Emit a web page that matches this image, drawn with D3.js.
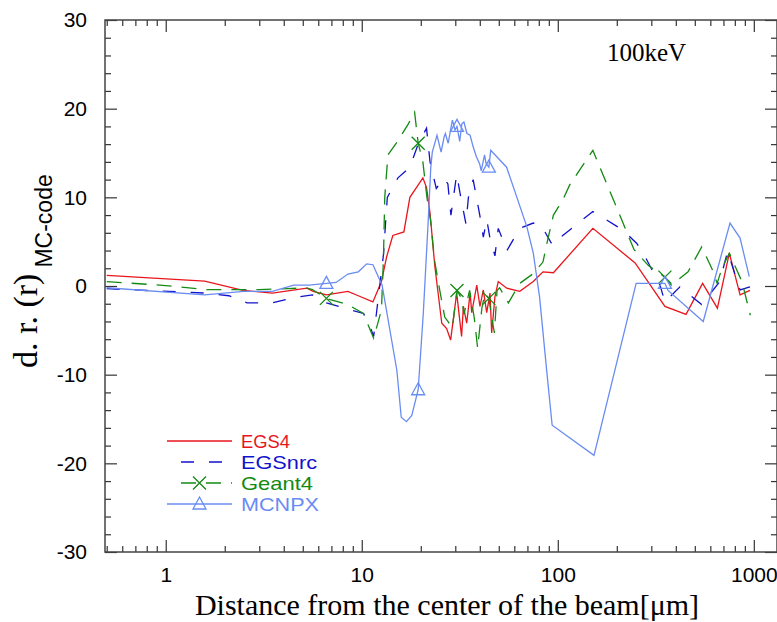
<!DOCTYPE html>
<html lang="en">
<head>
<meta charset="UTF-8">
<script src="https://cdnjs.cloudflare.com/ajax/libs/d3/7.8.5/d3.min.js"></script>
<title>d.r. 100keV</title>
<style>
  body { margin: 0; background: #fff; }
  .tick line { stroke: #333; stroke-width: 1.2; }
  .tick text { font-family: "Liberation Sans", Arial, sans-serif; font-size: 21px; fill: #000; }
</style>
</head>
<body>
<script>

// data: [distance in um, d.r.]
let egs4 = [[0.5,1.2],[1.58,0.55],[2.48,-0.5],[3.5,-0.8],[5.25,-0.25],[5.65,-0.6],[6.6,-1.0],[7.1,-0.9],
  [8.5,-0.6],[9.6,-1.1],[11.4,-1.8],[12.6,0.5],[13.4,3.3],[14.4,5.7],[16.4,6.1],[17.6,10.0],[19.0,11.1],
  [20.5,12.2],[21.4,11.1],[22.3,8.2],[23.6,2.2],[25.6,-4.2],[27.1,-4.8],[28.4,-6.1],[30.5,-0.8],[32.3,-5.7],
  [33.0,-2.3],[34.3,-4.2],[35.7,-0.8],[36.4,-3.0],[38.6,0.1],[40.1,-2.3],[41.7,-0.45],[43.4,-3.0],[45.1,-0.8],
  [46.0,-5.3],[47.8,-1.2],[49.7,0.5],[54.9,-0.25],[64,-0.6],[75,0.5],[84,1.6],[95,1.5],[151,6.5],[248,2.6],
  [352,-2.3],[451,-3.2],[548,0.3],[652,-2.5],[750,3.7],[851,-1.0],[956,-0.5]];

let egsnrc = [[0.5,-0.3],[1.6,-0.8],[2.1,-1.1],[2.6,-1.9],[3.5,-1.9],[4.5,-1.3],[5.6,-1.0],[6.6,-1.9],
  [8.5,-2.6],[10.2,-3.1],[10.8,-4.0],[11.5,-5.7],[12.9,3.5],[13.5,10.0],[15.3,12.2],[17.6,13.4],[19.4,16.0],
  [21.4,17.8],[22.3,14.0],[24.0,11.0],[26.3,12.2],[27.5,11.5],[28.5,8.0],[30.5,12.6],[32.0,10.0],[34.0,7.0],
  [35.0,10.0],[37.0,12.0],[40.0,8.0],[41.7,5.5],[43.4,7.5],[45.0,5.5],[47.8,3.4],[49.7,6.5],[55,4.0],[64,6.5],
  [75,7.1],[82,6.9],[94,4.6],[106,5.7],[151,8.4],[215,6.3],[253,4.8],[279,3.3],[332,0.1],[352,-1.8],[420,-0.1],
  [542,-2.1],[670,0.5],[735,3.9],[851,-0.45],[956,-0.1]];

let geant4 = [[0.5,0.5],[1.0,0.05],[1.6,-0.4],[2.2,-0.4],[3.0,-0.4],[4.2,-0.3],[5.2,-0.2],[5.6,-0.4],
  [6.6,-1.4],[8.5,-2.1],[10.2,-3.1],[11.5,-5.9],[12.6,-2.7],[12.9,3.0],[13.1,10.0],[13.6,14.8],[15.1,16.2],
  [17.2,18.2],[18.6,19.6],[19.4,16.1],[20.5,14.0],[21.5,10.0],[22.5,7.2],[23.5,2.9],[25.0,-0.5],[26.5,-3.5],
  [27.5,-4.0],[29.0,-4.7],[30.6,-0.5],[32.5,-1.5],[33.2,-3.2],[35.5,-0.5],[37.5,-3.6],[39.0,-7.0],[41.0,-2.5],
  [42.5,-0.8],[44.5,-1.4],[46.0,-3.5],[47.5,-5.3],[49.0,-0.5],[50.5,-0.2],[56,-1.9],[64,0.3],[75,1.4],[84,2.7],
  [88,4.8],[95,8.0],[106,9.7],[115,11.4],[151,15.3],[245,4.1],[290,2.3],[352,1.0],[380,0.1],[411,0.7],[462,1.6],
  [542,4.4],[610,2.0],[650,0.3],[690,2.1],[750,3.7],[870,0.5],[960,-3.3]];

let mcnpx = [[0.5,-0.2],[1.58,-1.0],[2.5,-0.6],[3.5,-0.6],[4.5,0.1],[5.4,0.1],[6.6,0.3],[7.4,0.4],[8.5,1.35],
  [9.6,1.6],[10.6,2.5],[11.4,2.4],[12.7,0.1],[15.1,-9.5],[15.9,-14.8],[16.9,-15.3],[18.0,-14.6],[19.4,-11.7],
  [20.6,-3.1],[21.8,7.1],[22.5,13.4],[22.9,15.1],[24.2,17.0],[25.4,15.1],[26.3,16.8],[26.7,17.2],[27.6,16.1],
  [28.6,18.0],[29.0,18.7],[29.9,17.6],[30.6,18.0],[31.6,16.3],[32.4,18.3],[33.2,18.5],[34.4,17.2],[35.7,17.0],
  [37.0,15.7],[38.4,14.6],[39.9,13.8],[40.7,13.0],[42.3,14.8],[43.1,13.8],[44.5,13.4],[45.5,15.3],[54.8,13.4],
  [69.5,6.7],[75,3.7],[80.7,-1.2],[88,-9.8],[93.6,-15.7],[153,-19.1],[251,0.3],[352,0.3],[365,-0.5],[552,-4.0],
  [756,7.1],[851,5.4],[948,1.05]];

// where the symbols sit on Geant4 / MCNPX
let markerX = [6.6, 19.4, 30.6, 44.5, 352];

let xMajor = [1, 10, 100, 1000];
let xMinor = [0.5,0.6,0.7,0.8,0.9, 2,3,4,5,6,7,8,9, 20,30,40,50,60,70,80,90, 200,300,400,500,600,700,800,900];
let yMajor = [-30, -20, -10, 0, 10, 20, 30];
let yMinor = d3.range(-28, 30, 2).filter(function(v) { return v % 10 !== 0; });

let series = [
  {name: "EGS4",   data: egs4,   color: "#e8161c", dash: null,    marker: null,  w: 49},
  {name: "EGSnrc", data: egsnrc, color: "#1212cc", dash: "13,15", marker: null,  w: 76},
  {name: "Geant4", data: geant4, color: "#138a13", dash: "15,10", marker: "x",   w: 72},
  {name: "MCNPX",  data: mcnpx,  color: "#6a8cf2", dash: null,    marker: "tri", w: 78}
];

// plot box in page pixels
let pL = 105, pT = 20, pR = 777, pB = 552;

let x = d3.scaleLog().domain([0.49, 1313]).range([pL, pR]);
let y = d3.scaleLinear().domain([-30, 30]).range([pB, pT]);

// plain hyphen for negatives, like the original
let plain = function(d) { return String(d); };

let svg = d3.select("body").append("svg")
    .attr("width", 777)
    .attr("height", 622);

svg.append("clipPath").attr("id", "plot")
  .append("rect")
    .attr("x", pL).attr("y", pT)
    .attr("width", pR - pL).attr("height", pB - pT);

// axes, ticks pointing inward on all four sides
function addAxis(axis, transform, labels) {
  let g = svg.append("g").attr("transform", transform).call(axis);
  g.select(".domain").remove();
  if (!labels) g.selectAll("text").remove();
  return g;
}

addAxis(d3.axisBottom(x).tickValues(xMajor).tickFormat(plain).tickSizeInner(-12).tickSizeOuter(0).tickPadding(15),
  "translate(0," + pB + ")", true);
addAxis(d3.axisBottom(x).tickValues(xMinor).tickSizeInner(-6).tickSizeOuter(0), "translate(0," + pB + ")", false);
addAxis(d3.axisTop(x).tickValues(xMajor).tickSizeInner(-12).tickSizeOuter(0), "translate(0," + pT + ")", false);
addAxis(d3.axisTop(x).tickValues(xMinor).tickSizeInner(-6).tickSizeOuter(0), "translate(0," + pT + ")", false);

addAxis(d3.axisLeft(y).tickValues(yMajor).tickFormat(plain).tickSizeInner(-12).tickSizeOuter(0).tickPadding(18),
  "translate(" + pL + ",0)", true);
addAxis(d3.axisLeft(y).tickValues(yMinor).tickSizeInner(-6).tickSizeOuter(0), "translate(" + pL + ",0)", false);
addAxis(d3.axisRight(y).tickValues(yMajor).tickSizeInner(-12).tickSizeOuter(0), "translate(" + pR + ",0)", false);
addAxis(d3.axisRight(y).tickValues(yMinor).tickSizeInner(-6).tickSizeOuter(0), "translate(" + pR + ",0)", false);

svg.append("rect")
    .attr("x", pL).attr("y", pT)
    .attr("width", pR - pL).attr("height", pB - pT)
    .attr("fill", "none")
    .attr("stroke", "#444")
    .attr("stroke-width", 1.5);

let line = d3.line()
    .x(function(d) { return x(d[0]); })
    .y(function(d) { return y(d[1]); });

let plot = svg.append("g").attr("clip-path", "url(#plot)");

function drawMarker(g, kind, px, py, color) {
  if (kind === "x") {
    g.append("path")
      .attr("d", "M" + (px-6.5) + "," + (py-6.5) + "L" + (px+6.5) + "," + (py+6.5) +
                 "M" + (px-6.5) + "," + (py+6.5) + "L" + (px+6.5) + "," + (py-6.5))
      .attr("stroke", color).attr("stroke-width", 1.3).attr("fill", "none");
  } else if (kind === "tri") {
    g.append("path")
      .attr("d", "M" + px + "," + (py-7) + "L" + (px+6.5) + "," + (py+5) + "L" + (px-6.5) + "," + (py+5) + "Z")
      .attr("stroke", color).attr("stroke-width", 1.3).attr("fill", "none");
  }
}

series.forEach(function(s) {
  plot.append("path")
      .datum(s.data)
      .attr("d", line)
      .attr("fill", "none")
      .attr("stroke", s.color)
      .attr("stroke-width", 1.3)
      .attr("stroke-dasharray", s.dash);
  if (s.marker) {
    s.data.filter(function(d) { return markerX.indexOf(d[0]) >= 0; })
      .forEach(function(d) { drawMarker(plot, s.marker, x(d[0]), y(d[1]), s.color); });
  }
});

// legend
let legendY = [441, 462, 483, 504];
series.forEach(function(s, i) {
  let ly = legendY[i];
  let x0 = s.dash ? 181 : 167;
  svg.append("line")
      .attr("x1", x0).attr("x2", 232)
      .attr("y1", ly).attr("y2", ly)
      .attr("stroke", s.color)
      .attr("stroke-width", 1.3)
      .attr("stroke-dasharray", s.dash);
  if (s.marker) drawMarker(svg, s.marker, 199.5, ly, s.color);
  svg.append("text")
      .attr("x", 241).attr("y", ly + 7)
      .attr("textLength", s.w)
      .attr("lengthAdjust", "spacingAndGlyphs")
      .style("font-family", "Liberation Sans, Arial, sans-serif")
      .style("font-size", "18.5px")
      .attr("fill", s.color)
      .text(s.name);
});

// titles
svg.append("text")
    .attr("x", 447).attr("y", 615)
    .style("text-anchor", "middle")
    .style("font-family", "Liberation Serif, Times New Roman, serif")
    .style("font-size", "30px")
    .text("Distance from the center of the beam[\u03bcm]");

let yTitle = svg.append("text")
    .attr("transform", "translate(37,368) rotate(-90)")
    .style("font-family", "Liberation Serif, Times New Roman, serif")
    .style("font-size", "34px");
yTitle.append("tspan").text("d. r. (r)");
yTitle.append("tspan")
    .attr("dx", 6).attr("dy", 15)
    .style("font-family", "Liberation Sans, Arial, sans-serif")
    .style("font-size", "23px")
    .text("MC-code");

svg.append("text")
    .attr("x", 607).attr("y", 61)
    .style("font-family", "Liberation Serif, Times New Roman, serif")
    .style("font-size", "25px")
    .text("100keV");

</script>
</body>
</html>
